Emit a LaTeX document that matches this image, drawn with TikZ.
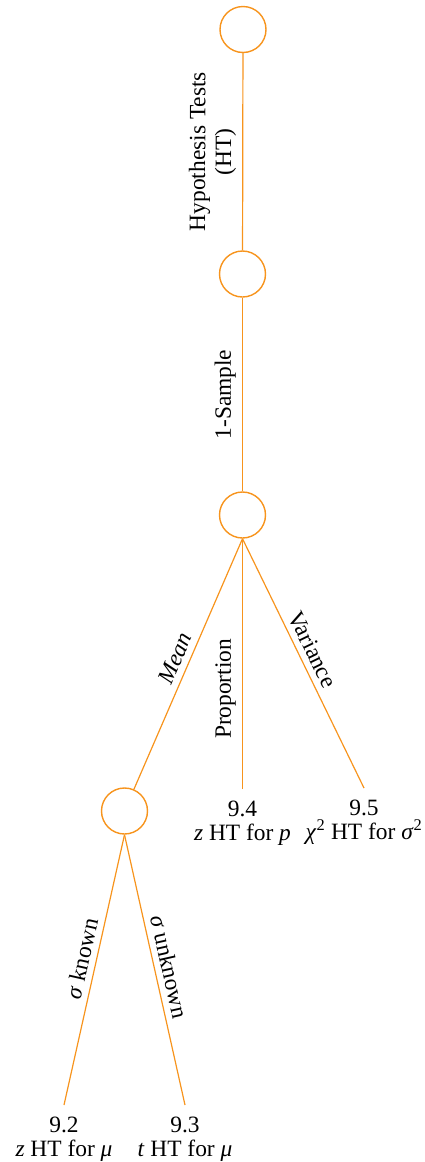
\documentclass[tikz,border=0pt]{standalone}
\usepackage{fontspec}
\setmainfont{Liberation Serif}
\usetikzlibrary{positioning}
\definecolor{Tree}{HTML}{F7941D}

\begin{document}
\begin{tikzpicture}[x=1bp,y=-1bp,
    fork/.style={circle,draw=Tree,line width=1.4bp,minimum size=46bp,inner sep=0pt},
    leaf/.style={anchor=north,align=center,inner xsep=0pt,inner ysep=12bp,
      font=\fontsize{23.5}{24}\selectfont},
    branch/.style={draw=Tree,line width=1.2bp},
    tag/.style={sloped,above,inner sep=6bp,font=\fontsize{23.5}{26}\selectfont,align=center}]
    \useasboundingbox (0,0) rectangle (424,1162);
    % decision points
    \node[fork] (top) at (243,29.5) {};
    \node[fork] (one) at (242.5,274) {};
    \node[fork] (kind) at (242.5,515) {};
    \node[fork] (mean) at (124.5,811) {};
    % tests
    \node[leaf] (prop) at (242.5,789) {9.4\\\textit{z} HT for \textit{p}};
    \node[leaf] (var) at (364,788) {9.5\\\textit{χ}\textsuperscript{2} HT for \textit{σ}\textsuperscript{2}};
    \node[leaf] (zmu) at (64,1105) {9.2\\\textit{z} HT for \textit{μ}};
    \node[leaf] (tmu) at (185,1105) {9.3\\\textit{t} HT for \textit{μ}};
    % branches
    \path[branch] (one) -- node[tag] {Hypothesis Tests\\(HT)} (top);
    \path[branch] (kind) -- node[tag] {1-Sample} (one);
    \path[branch] (kind.south) -- node[tag] {\textit{Mean}} (mean);
    \path[branch] (prop.north) -- node[tag,pos=0.4] {Proportion} (kind.south);
    \path[branch] (kind.south) -- node[tag,pos=0.47] {Variance} (var.north);
    \path[branch] (mean.south) -- node[tag,pos=0.47] {\textit{σ} known} (zmu.north);
    \path[branch] (mean.south) -- node[tag] {\textit{σ} unknown} (tmu.north);
\end{tikzpicture}
\end{document}
